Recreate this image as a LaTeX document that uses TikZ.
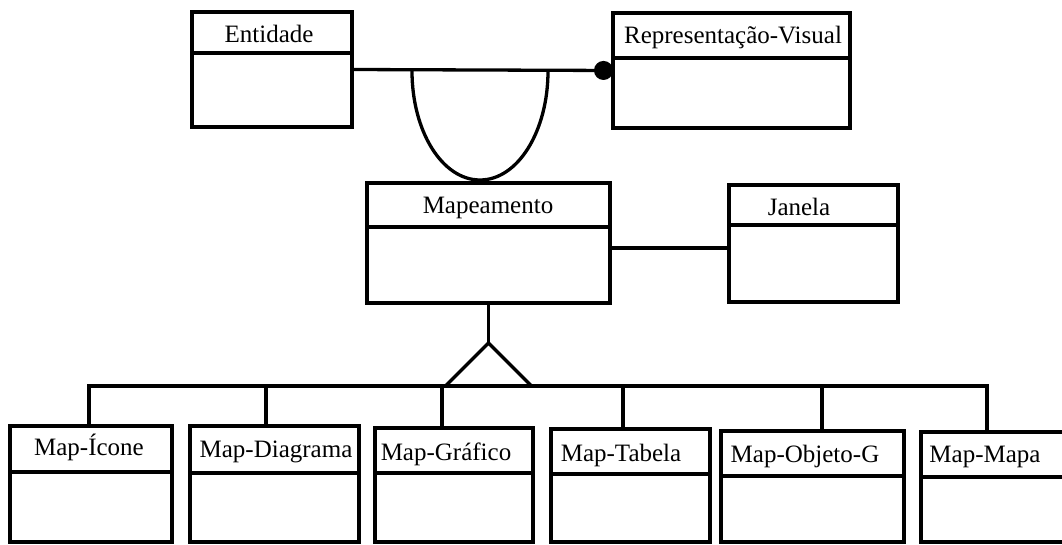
\documentclass[tikz,border=0pt]{standalone}
\usepackage{fontspec}
\setmainfont{Liberation Serif}
\usetikzlibrary{arrows.meta}

\tikzset{
  linha/.style = {line width = 3.3pt},
  classe/.style = {draw, linha, inner sep = 0pt, outer sep = 0pt, anchor = north west},
  titulo/.style = {font = \fontsize{25}{28}\selectfont, inner sep = 0pt, anchor = base}
}

\begin{document}
\begin{tikzpicture}[x = 1pt, y = -1pt]
\useasboundingbox (0, 0) rectangle (1062, 544);

% classes de cima
\node[classe, minimum width = 160pt, minimum height = 115pt] (ent) at (192, 12) {};
\draw[linha] (ent.west |- 0, 53) -- (ent.east |- 0, 53);
\node[titulo] (tent) at (269, 42) {Entidade};
\node[classe, minimum width = 237pt, minimum height = 115pt] (rv) at (613, 13) {};
\draw[linha] (rv.west |- 0, 58) -- (rv.east |- 0, 58);
\node[titulo] (trv) at (733, 43) {Representação-Visual};

\node[classe, minimum width = 243pt, minimum height = 120pt] (map) at (367, 183) {};
\draw[linha] (map.west |- 0, 227) -- (map.east |- 0, 227);
\node[titulo] (tmap) at (488, 213) {Mapeamento};
\node[classe, minimum width = 169pt, minimum height = 117pt] (jan) at (729, 185) {};
\draw[linha] (jan.west |- 0, 225) -- (jan.east |- 0, 225);
\node[titulo] (tjan) at (799, 215) {Janela};

% subclasses
\node[classe, minimum width = 162pt, minimum height = 116pt] (icone) at (10, 426) {};
\draw[linha] (icone.west |- 0, 472) -- (icone.east |- 0, 472);
\node[titulo] (ticone) at (89, 455) {Map-Ícone};
\node[classe, minimum width = 169pt, minimum height = 116pt] (diag) at (190, 426) {};
\draw[linha] (diag.west |- 0, 473) -- (diag.east |- 0, 473);
\node[titulo] (tdiag) at (276, 457) {Map-Diagrama};
\node[classe, minimum width = 158pt, minimum height = 114pt] (graf) at (375, 428) {};
\draw[linha] (graf.west |- 0, 473) -- (graf.east |- 0, 473);
\node[titulo] (tgraf) at (446, 460) {Map-Gráfico};
\node[classe, minimum width = 159pt, minimum height = 113pt] (tab) at (551, 429) {};
\draw[linha] (tab.west |- 0, 474) -- (tab.east |- 0, 474);
\node[titulo] (ttab) at (621, 461) {Map-Tabela};
\node[classe, minimum width = 183pt, minimum height = 111pt] (obj) at (721, 431) {};
\draw[linha] (obj.west |- 0, 476) -- (obj.east |- 0, 476);
\node[titulo] (tobj) at (805, 462) {Map-Objeto-G};
\node[classe, minimum width = 160pt, minimum height = 110pt] (mapa) at (921, 432) {};
\draw[linha] (mapa.west |- 0, 477) -- (mapa.east |- 0, 477);
\node[titulo] (tmapa) at (985, 462) {Map-Mapa};

% relacionamentos
\draw[linha, -{Circle[length = 19pt]}] (ent.east) -- (rv.west);
\coordinate (uL) at (412, 71);
\coordinate (uR) at (548, 71);
\draw[linha] (uL) .. controls (412, 131) and (442, 180) .. (480, 180)
  .. controls (518, 180) and (548, 131) .. (uR);
\draw[linha] (map.east |- 0, 248) -- (jan.west |- 0, 248);

% generalizacao
\coordinate (topo) at (map.south |- 0, 343);
\draw[linha] (map.south) -- (topo);
\draw[linha, line join = miter] (topo) -- ++(-43, 43) -- ++(86, 0) -- cycle;
\draw[linha] (icone.north -| 89, 0) |- (987, 386) -- (mapa.north -| 987, 0);
\foreach \n/\x in {diag/266, graf/442, tab/623, obj/822}
  \draw[linha] (\x, 386) -- (\n.north -| \x, 0);
\end{tikzpicture}
\end{document}
